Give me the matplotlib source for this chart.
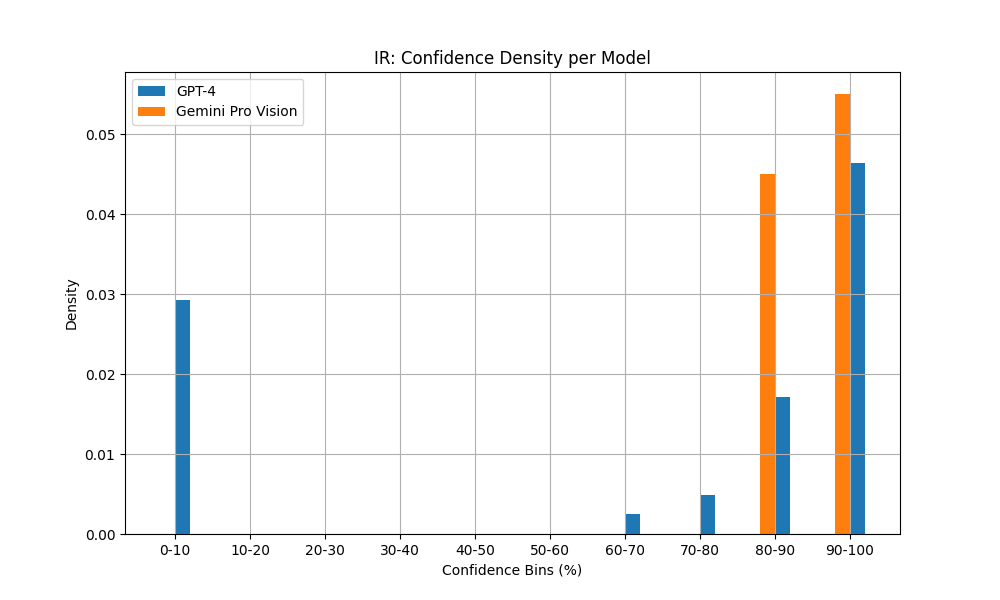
import matplotlib
matplotlib.use("Agg")
import matplotlib.pyplot as plt
import numpy as np

bins = ["0-10", "10-20", "20-30", "30-40", "40-50", "50-60", "60-70", "70-80", "80-90", "90-100"]
gpt4 = [0.02927, 0, 0, 0, 0, 0, 0.00244, 0.00488, 0.01707, 0.04634]
gemini = [0, 0, 0, 0, 0, 0, 0, 0, 0.045, 0.055]

fig, ax = plt.subplots(figsize=(10, 6), dpi=100)
x = np.arange(len(bins))
w = 0.2
ax.bar(x + w / 2, gpt4, w, label="GPT-4", color="#1f77b4")
ax.bar(x - w / 2, gemini, w, label="Gemini Pro Vision", color="#ff7f0e")
ax.set_xticks(x)
ax.set_xticklabels(bins)
ax.set_xlabel("Confidence Bins (%)")
ax.set_ylabel("Density")
ax.set_title("IR: Confidence Density per Model")
ax.legend(loc="upper left")
ax.grid(True)
fig.savefig("out.png")
